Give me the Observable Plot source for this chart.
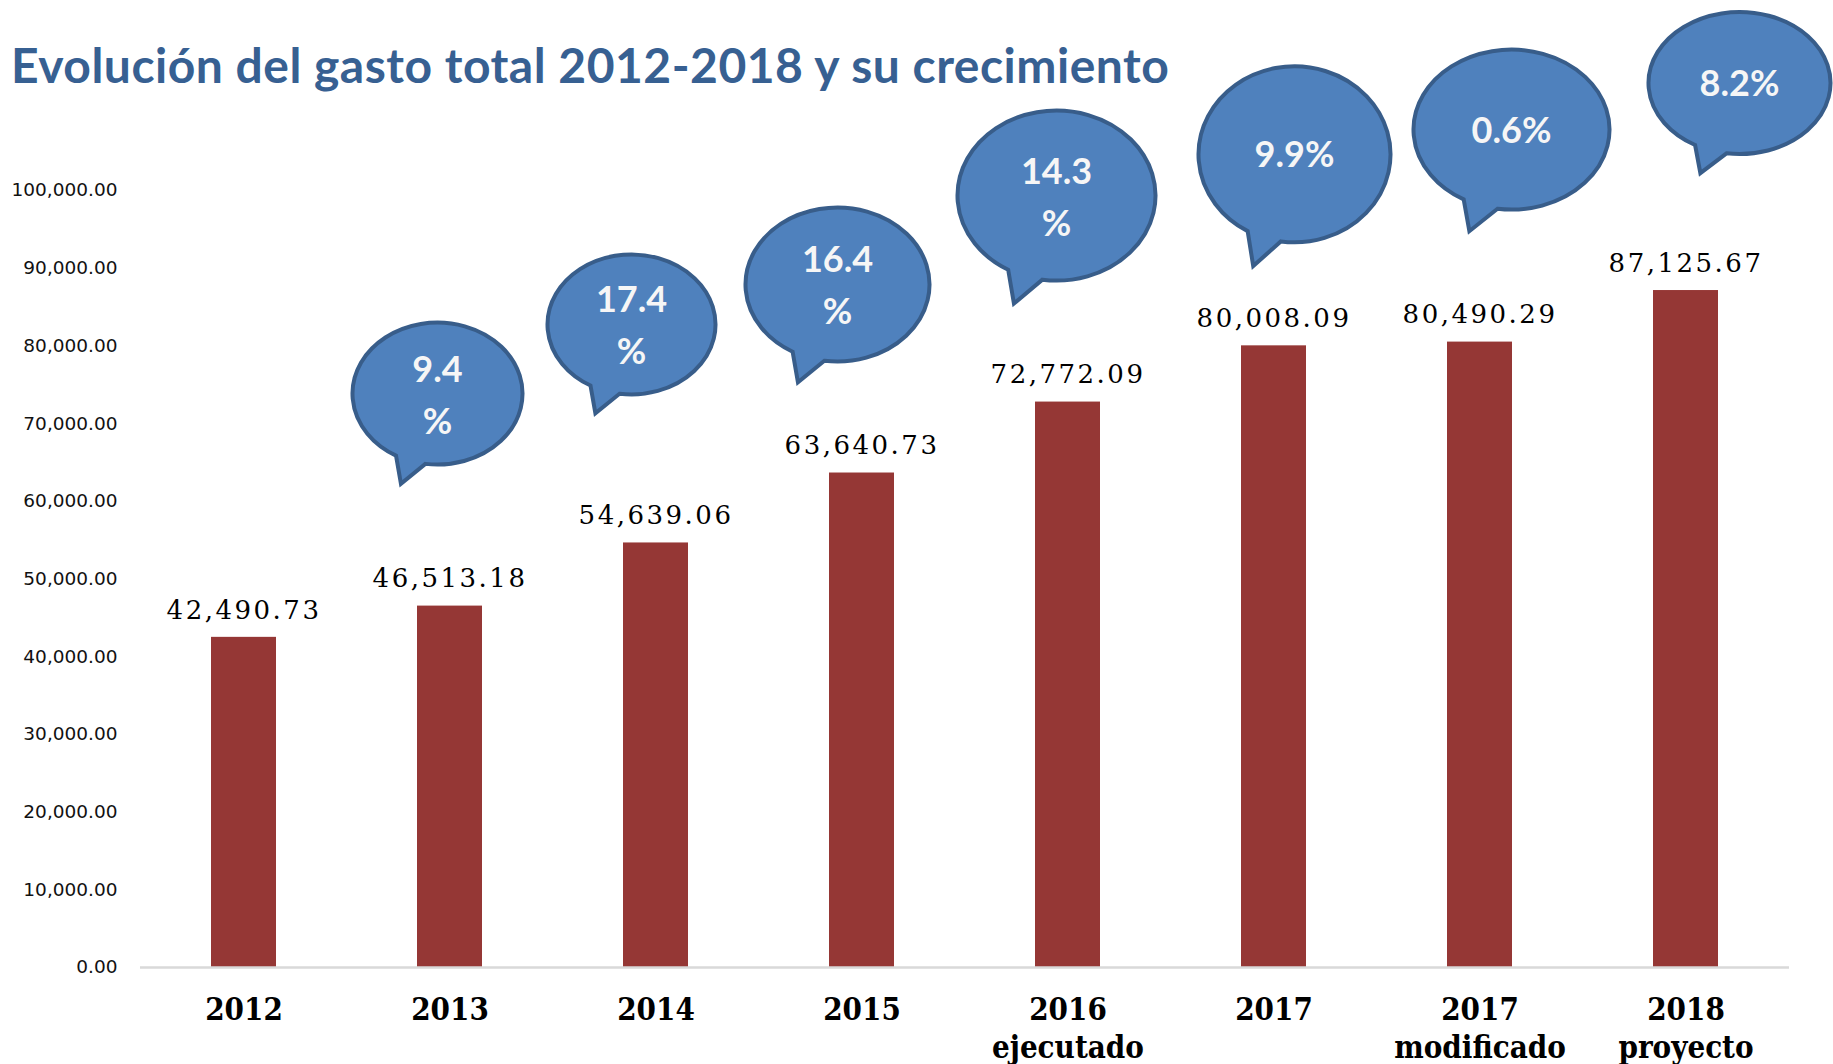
<!DOCTYPE html>
<html>
<head>
<meta charset="utf-8">
<script src="https://cdn.jsdelivr.net/npm/d3@7"></script>
<script src="https://cdn.jsdelivr.net/npm/@observablehq/plot@0.6"></script>
<style>
  body { margin: 0; background: #fff; }
  #wrap { position: relative; width: 1833px; height: 1064px; overflow: hidden; }
  #title { position: absolute; left: 11px; top: 41px; margin: 0; font-family: Lato, "Open Sans", sans-serif; font-weight: 700; font-size: 48px; letter-spacing: 0.5px; line-height: 1; color: #376092; white-space: nowrap; z-index: 2; }
  #chart { position: absolute; left: 0; top: 0; }
</style>
</head>
<body>
<div id="wrap">
  <h1 id="title">Evolución del gasto total 2012-2018 y su crecimiento</h1>
  <div id="chart"></div>
</div>
<script>
// ---- data ----
const categories = ["2012", "2013", "2014", "2015", "2016 ejecutado", "2017", "2017 modificado", "2018 proyecto"];
const tickLabels = ["2012", "2013", "2014", "2015", "2016\nejecutado", "2017", "2017\nmodificado", "2018\nproyecto"];
const gasto = [42490.73, 46513.18, 54639.06, 63640.73, 72772.09, 80008.09, 80490.29, 87125.67];
const crecimiento = [null, 9.4, 17.4, 16.4, 14.3, 9.9, 0.6, 8.2];
const crecimientoTexto = [null, "9.4\n%", "17.4\n%", "16.4\n%", "14.3\n%", "9.9%", "0.6%", "8.2%"];
const yTicks = [0, 10000, 20000, 30000, 40000, 50000, 60000, 70000, 80000, 90000, 100000];

// ---- annotation layout (callout offsets relative to bar top, in px) ----
const calloutLayout = [null,
  {dx: -12, dy: -212, rx: 85, ry: 71},
  {dx: -24, dy: -218, rx: 84, ry: 70},
  {dx: -24, dy: -188, rx: 92, ry: 77},
  {dx: -11, dy: -206, rx: 99, ry: 85},
  {dx: 21, dy: -191, rx: 96, ry: 88},
  {dx: 32, dy: -212, rx: 98, ry: 80},
  {dx: 54, dy: -207, rx: 91, ry: 71}
];

const rows = categories.map((c, i) => ({cat: c, label: tickLabels[i], value: gasto[i], growth: crecimiento[i], growthText: crecimientoTexto[i]}));
const fmt = d3.format(",.2f");

function callouts(index, scales) {
  const x = scales.x, y = scales.y;
  const bw = typeof x.bandwidth === "function" ? x.bandwidth() : (x.bandwidth || 0);
  const g = d3.create("svg:g");
  rows.forEach((d, i) => {
    if (d.growth == null) return;
    const L = calloutLayout[i];
    const cx = x(d.cat) + bw / 2 + L.dx;
    const cy = y(d.value) + L.dy;
    const tx = -0.43 * L.rx, ty = 1.27 * L.ry;
    const a = Math.atan2(ty / L.ry, tx / L.rx);
    const w = 10.5 * Math.PI / 180;
    const p = t => [cx + L.rx * Math.cos(t), cy + L.ry * Math.sin(t)];
    const p1 = p(a - w), p2 = p(a + w);
    const path = `M${p2[0]},${p2[1]} A${L.rx},${L.ry} 0 1 1 ${p1[0]},${p1[1]} L${cx + tx},${cy + ty} Z`;
    g.append("path").attr("d", path)
      .attr("fill", "#4F81BD").attr("stroke", "#385D8A").attr("stroke-width", 4).attr("stroke-linejoin", "miter");
    const lines = d.growthText.split("\n");
    const t = g.append("text")
      .attr("text-anchor", "middle")
      .attr("font-family", "Lato, 'Open Sans', sans-serif")
      .attr("font-weight", 700)
      .attr("font-size", 36)
      .attr("fill", "#f6f6f6");
    if (lines.length === 1) {
      t.append("tspan").attr("x", cx).attr("y", cy).attr("dy", "0.36em").text(lines[0]);
    } else {
      t.append("tspan").attr("x", cx).attr("y", cy - 25).attr("dy", "0.36em").text(lines[0]);
      t.append("tspan").attr("x", cx).attr("y", cy + 27).attr("dy", "0.36em").text(lines[1]);
    }
  });
  return g.node();
}

const chart = Plot.plot({
  width: 1833,
  height: 1064,
  marginTop: 190,
  marginBottom: 97,
  marginLeft: 140,
  marginRight: 44,
  style: {fontFamily: "'DejaVu Sans', Verdana, sans-serif", fontSize: "18.5px", color: "#111", background: "transparent"},
  x: {type: "band", domain: categories, paddingInner: 0.685, paddingOuter: 0.3425, axis: null},
  y: {domain: [0, 100000], ticks: yTicks, tickFormat: fmt, tickSize: 0, tickPadding: 23, label: null},
  marks: [
    Plot.barY(rows, {x: "cat", y: "value", fill: "#953735"}),
    Plot.ruleY([0], {stroke: "#d9d9d9", strokeWidth: 2.5}),
    Plot.text(rows, {x: "cat", y: "value", text: d => fmt(d.value), dy: -27, fontFamily: "'DejaVu Serif', serif", fontSize: 26, fill: "#000"}),
    Plot.text(rows, {x: "cat", frameAnchor: "bottom", text: "label", lineAnchor: "top", dy: 25, lineHeight: 1.24, fontFamily: "'DejaVu Serif Condensed', 'DejaVu Serif', serif", fontWeight: "bold", fontSize: 31, fill: "#000"}),
    callouts
  ]
});
// widen value labels to match reference letter spacing
d3.select(chart).selectAll("g[aria-label='text'] text").filter(function() { return this.parentNode.getAttribute("font-size") === "26"; }).style("letter-spacing", "2.5px");
document.getElementById("chart").appendChild(chart);
</script>
</body>
</html>
